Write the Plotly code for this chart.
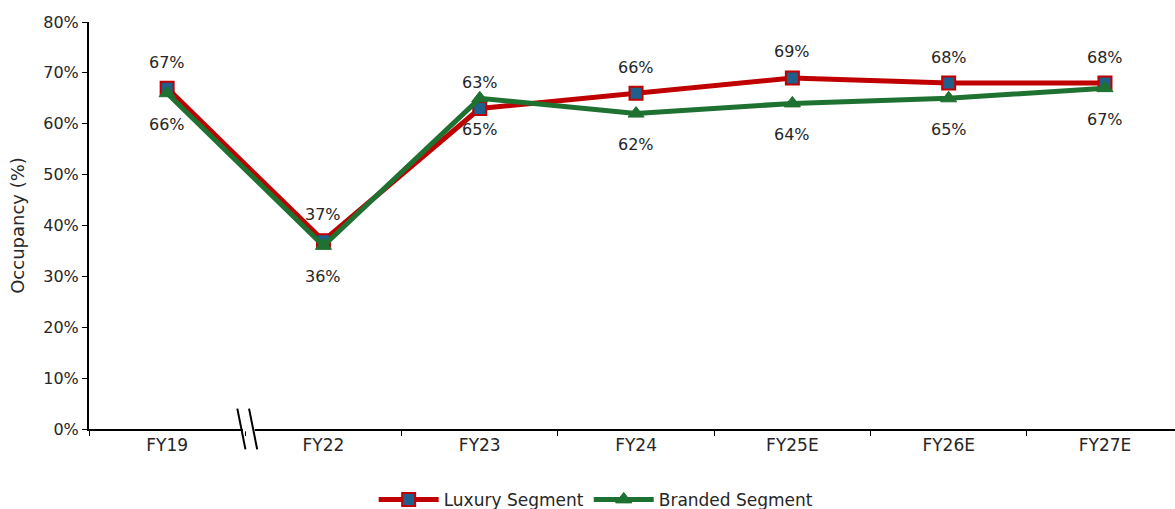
import plotly.graph_objects as go

# Occupancy by fiscal year
years = ["FY19", "FY22", "FY23", "FY24", "FY25E", "FY26E", "FY27E"]
luxury = [67, 37, 63, 66, 69, 68, 68]
branded = [66, 36, 65, 62, 64, 65, 67]

RED = "#C00000"
GREEN = "#1E7130"
BLUE = "#1F5F8B"
FONT = "DejaVu Sans"
TXT = "#262626"

fig = go.Figure()

fig.add_trace(go.Scatter(
    x=years, y=luxury, name="Luxury Segment", mode="lines+markers",
    line=dict(color=RED, width=5),
    marker=dict(symbol="square", size=13, color=BLUE, line=dict(color=RED, width=2)),
))
fig.add_trace(go.Scatter(
    x=years, y=branded, name="Branded Segment", mode="lines+markers",
    line=dict(color=GREEN, width=5),
    marker=dict(symbol="triangle-up", size=14, color=GREEN, line=dict(color=GREEN, width=1)),
))

# value labels: luxury above, branded below
for xv, yv in zip(years, luxury):
    fig.add_annotation(x=xv, y=yv, text=f"{yv}%", showarrow=False, yshift=26,
                       font=dict(family=FONT, size=16, color=TXT))
for xv, yv in zip(years, branded):
    fig.add_annotation(x=xv, y=yv, text=f"{yv}%", showarrow=False, yshift=-31,
                       font=dict(family=FONT, size=16, color=TXT))

# axis break between FY19 and FY22
fig.add_shape(type="rect", xref="x", yref="paper", x0=0.485, x1=0.56, y0=-0.006, y1=0.006,
              fillcolor="white", line=dict(width=0), layer="above")
for cx in (0.475, 0.55):
    fig.add_shape(type="line", xref="x", yref="paper",
                  x0=cx - 0.026, x1=cx + 0.026, y0=0.05, y1=-0.05,
                  line=dict(color="black", width=2), layer="above")

fig.update_layout(
    width=1175, height=509,
    margin=dict(l=89, r=0, t=22, b=80, autoexpand=False),
    paper_bgcolor="white", plot_bgcolor="white",
    font=dict(family=FONT, size=16, color=TXT),
    showlegend=True,
    legend=dict(orientation="h", x=0.467, xanchor="center",
                yref="container", y=0.018, yanchor="middle",
                font=dict(family=FONT, size=17, color=TXT), itemwidth=60,
                tracegroupgap=0),
)
fig.update_xaxes(
    type="category", range=[-0.5, 6.448],
    showline=True, linecolor="black", linewidth=2,
    ticks="outside", tickson="boundaries", ticklen=5, tickcolor="black", tickwidth=1,
    showgrid=False, zeroline=False,
    tickfont=dict(family=FONT, size=17, color=TXT),
)
fig.update_yaxes(
    range=[0, 80], dtick=10, ticksuffix="%",
    showline=True, linecolor="black", linewidth=2,
    ticks="outside", ticklen=5, tickcolor="black", tickwidth=1,
    showgrid=False, zeroline=False,
    title=dict(text="Occupancy (%)", font=dict(family=FONT, size=18, color=TXT), standoff=14),
    tickfont=dict(family=FONT, size=16, color=TXT),
)

fig.write_html("out.html")
